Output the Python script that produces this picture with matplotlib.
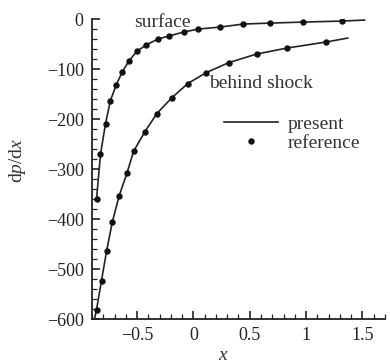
import matplotlib
matplotlib.use("Agg")
import matplotlib.pyplot as plt
from matplotlib.ticker import MultipleLocator, FuncFormatter

plt.rcParams['font.family'] = ['Liberation Serif', 'DejaVu Serif']
plt.rcParams['mathtext.fontset'] = 'custom'
plt.rcParams['mathtext.rm'] = 'Liberation Serif'
plt.rcParams['mathtext.it'] = 'Liberation Serif:italic'

# present (solid lines)
surf_x = [-0.86, -0.825, -0.78, -0.737, -0.684, -0.63, -0.57, -0.50, -0.42, -0.316,
          -0.22, -0.088, 0.044, 0.237, 0.44, 0.684, 0.974, 1.316, 1.52]
surf_y = [-360, -270, -209, -163, -131, -105, -83, -64, -52, -40,
          -34, -26, -20, -16, -10, -8, -6, -4, -2]
shock_x = [-0.875, -0.86, -0.816, -0.77, -0.72, -0.66, -0.59, -0.53, -0.43, -0.325,
           -0.19, -0.05, 0.114, 0.316, 0.56, 0.83, 1.175, 1.37]
shock_y = [-597, -581, -523, -463, -406, -354, -308, -264, -225, -189,
           -157, -129, -107, -87, -70, -58, -46, -38]

# reference (dots)
ref_surf_x = [-0.86, -0.825, -0.78, -0.737, -0.684, -0.63, -0.57, -0.50, -0.42, -0.316,
              -0.22, -0.088, 0.044, 0.237, 0.44, 0.684, 0.974, 1.316]
ref_surf_y = [-360, -270, -209, -163, -131, -105, -83, -64, -52, -40,
              -34, -26, -20, -16, -10, -8, -6, -4]
ref_shock_x = [-0.86, -0.816, -0.77, -0.72, -0.66, -0.59, -0.53, -0.43, -0.325,
               -0.19, -0.05, 0.114, 0.316, 0.56, 0.83, 1.175]
ref_shock_y = [-581, -523, -463, -406, -354, -308, -264, -225, -189,
               -157, -129, -107, -87, -70, -58, -46]

x_ticks = [-0.5, 0, 0.5, 1, 1.5]
y_ticks = [-600, -500, -400, -300, -200, -100, 0]

fig = plt.figure(figsize=(3.9, 3.64), dpi=100)
ax = fig.add_axes([0.236, 0.1236, 0.751, 0.824])

ax.plot(surf_x, surf_y, '-', color='#222222', lw=1.2, label='present')
ax.plot(shock_x, shock_y, '-', color='#222222', lw=1.2)
ax.plot(ref_surf_x, ref_surf_y, 'o', color='#111111', ms=3.6, ls='none', label='reference')
ax.plot(ref_shock_x, ref_shock_y, 'o', color='#111111', ms=3.6, ls='none')

ax.text(-0.526, -16, 'surface', fontsize=14, color='#333333')
ax.text(0.14, -137, 'behind shock', fontsize=14, color='#333333')

ax.set_xlim(-0.9, 1.7)
ax.set_ylim(-600, 0)
ax.set_xticks(x_ticks)
ax.set_yticks(y_ticks)
ax.xaxis.set_minor_locator(MultipleLocator(0.1))
ax.yaxis.set_minor_locator(MultipleLocator(20))
ax.xaxis.set_major_formatter(FuncFormatter(lambda v, p: ('%g' % v).replace('-', '\u2212')))
ax.yaxis.set_major_formatter(FuncFormatter(lambda v, p: ('%g' % v).replace('-', '\u2212')))

for s in ['top', 'right']:
    ax.spines[s].set_visible(False)
for s in ['left', 'bottom']:
    ax.spines[s].set_linewidth(1.3)
    ax.spines[s].set_color('#222222')

ax.tick_params(which='major', direction='in', length=6, width=1.2, labelsize=13,
               colors='#222222', pad=6)
ax.tick_params(which='minor', direction='in', length=3.5, width=0.9, colors='#222222')

ax.set_xlabel('$x$', fontsize=14, color='#333333')
ax.xaxis.set_label_coords(0.447, -0.092)
ax.set_ylabel('d$p$/d$x$', fontsize=14, color='#333333')
ax.yaxis.set_label_coords(-0.22, 0.53)

ax.legend(loc='upper left', bbox_to_anchor=(0.45, 0.68), frameon=False, fontsize=14,
          handlelength=2.8, handletextpad=0.5, labelspacing=0.1, borderpad=0,
          borderaxespad=0, labelcolor='#333333')

fig.savefig('out.png', dpi=100)
